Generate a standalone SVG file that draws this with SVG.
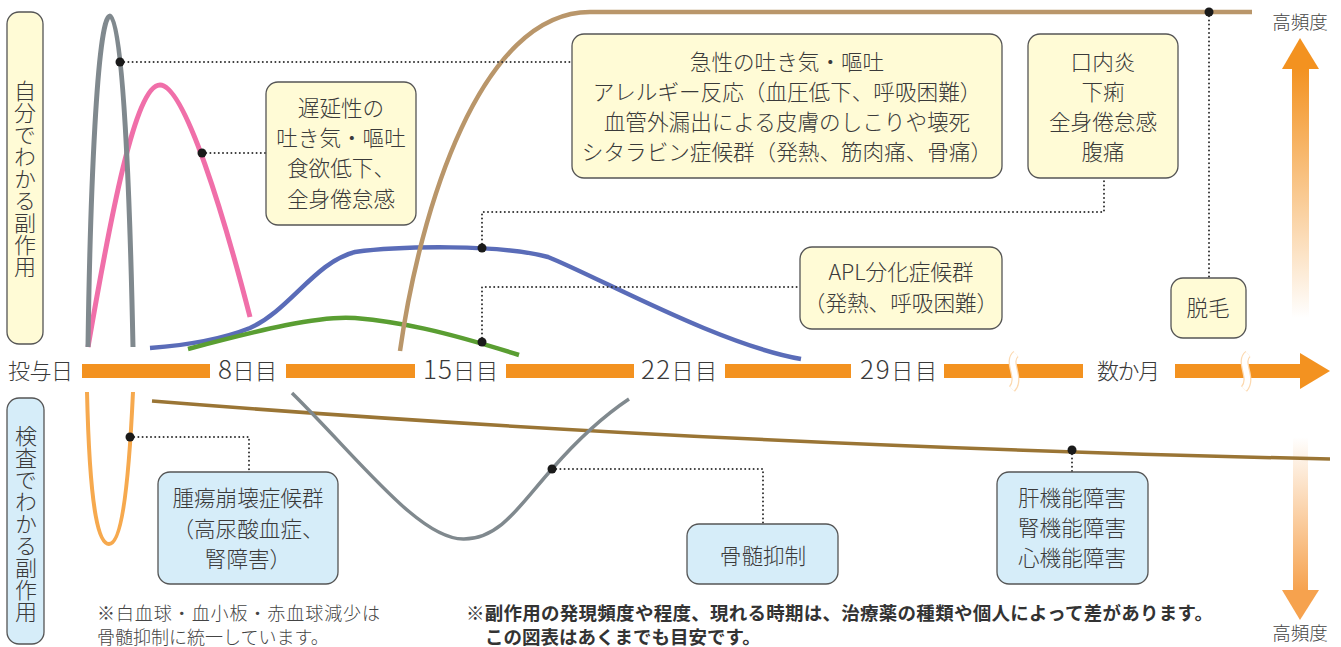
<svg xmlns="http://www.w3.org/2000/svg" width="1341" height="647" viewBox="0 0 1341 647">
<style>
text{font-family:"Noto Sans CJK JP","Noto Sans",sans-serif;fill:#3a3a3a;}
.box{font-size:21.6px;text-anchor:middle;font-weight:300;}
.cream{fill:#fffbd6;stroke:#555;stroke-width:1.3;}
.blue{fill:#d6edf9;stroke:#555;stroke-width:1.3;}
.ax{font-size:22px;font-weight:300;}
.num{font-size:26px;}
.vt{font-size:22px;font-weight:300;}
.curve{fill:none;stroke-linecap:butt;}
.dot{fill:none;stroke:#333;stroke-width:2;stroke-dasharray:0 4.2;stroke-linecap:round;}
.pt{fill:#1a1a1a;}
.bar{fill:#f39220;}
.brk1{fill:none;stroke:#fcd9b0;stroke-width:8;}
.brk2{fill:none;stroke:#fff;stroke-width:5.5;}
.note{font-size:18px;fill:#444;font-weight:300;}
.bold{font-size:18.5px;font-weight:700;fill:#333;}
.freq{font-size:18.5px;text-anchor:middle;fill:#444;font-weight:300;}
</style>
<defs>
<linearGradient id="gUp" x1="0" y1="0" x2="0" y2="1">
<stop offset="0" stop-color="#f39220"/>
<stop offset="1" stop-color="#f39220" stop-opacity="0"/>
</linearGradient>
<linearGradient id="gDown" x1="0" y1="0" x2="0" y2="1">
<stop offset="0" stop-color="#f6a24e" stop-opacity="0"/>
<stop offset="1" stop-color="#f6a24e"/>
</linearGradient>
</defs>

<g id="label-self">
<rect class="cream" x="7" y="12" width="36" height="332" rx="12"/>
<text class="vt" x="25" y="178.5" style="writing-mode:vertical-rl" text-anchor="middle">自分でわかる副作用</text>
</g>
<g id="label-test">
<rect class="blue" x="7" y="398" width="37" height="246" rx="12"/>
<text class="vt" x="26" y="523.5" style="writing-mode:vertical-rl" text-anchor="middle">検査でわかる副作用</text>
</g>

<g id="axis">
<text class="ax" x="8" y="379" textLength="65">投与日</text>
<rect class="bar" x="82" y="364" width="128" height="14"/>
<text class="ax" x="218" y="379" textLength="59"><tspan class="num">8</tspan>日目</text>
<rect class="bar" x="286" y="364" width="129" height="14"/>
<text class="ax" x="423" y="379" textLength="75"><tspan class="num">15</tspan>日目</text>
<rect class="bar" x="506" y="364" width="128" height="14"/>
<text class="ax" x="641" y="379" textLength="76"><tspan class="num">22</tspan>日目</text>
<rect class="bar" x="725" y="364" width="126" height="14"/>
<text class="ax" x="860" y="379" textLength="77"><tspan class="num">29</tspan>日目</text>
<rect class="bar" x="944" y="364" width="139" height="14"/>
<text class="ax" x="1097" y="379" textLength="63">数か月</text>
<rect class="bar" x="1175" y="364" width="127" height="14"/>
<polygon class="bar" points="1300,353 1330,371 1300,389"/>
<path class="brk1" d="M1016,354 C1006,362 1022,378 1012,389"/>
<path class="brk2" d="M1016,354 C1006,362 1022,378 1012,389"/>
<path class="brk1" d="M1248,354 C1238,362 1254,378 1244,389"/>
<path class="brk2" d="M1248,354 C1238,362 1254,378 1244,389"/>
</g>

<g id="freq-up">
<text class="freq" x="1300" y="29">高頻度</text>
<rect x="1292" y="68" width="17" height="250" fill="url(#gUp)"/>
<polygon points="1300,38 1319,69 1282,69" fill="#f39220"/>
</g>
<g id="freq-down">
<rect x="1293" y="437" width="15" height="154" fill="url(#gDown)"/>
<polygon points="1282,590 1319,590 1300,620" fill="#f6a24e"/>
<text class="freq" x="1300" y="640">高頻度</text>
</g>

<g id="curves">
<path class="curve" stroke="#f06fa9" stroke-width="5" d="M88,347 C110,220 135,85 160,85 C185,85 225,220 250,317"/>
<path class="curve" stroke="#80898e" stroke-width="5" d="M88,347 C90,200 97,16 110,16 C123,16 130,200 133,347"/>
<path class="curve" stroke="#5a6cb8" stroke-width="4.5" d="M150,348 C190,345 225,338 250,328 C290,310 315,262 355,252 C400,246 500,244 548,257 C600,278 720,345 801,359"/>
<path class="curve" stroke="#5a9e32" stroke-width="4.5" d="M188,349 C260,330 320,315 355,318 C400,322 440,330 519,355"/>
<path class="curve" stroke="#b9966a" stroke-width="4.5" d="M400,351 C420,210 480,12 590,12 L1252,12"/>
<path class="curve" stroke="#f6a94e" stroke-width="4" d="M87,392 C90,520 100,544 109,544 C120,544 128,500 133,392"/>
<path class="curve" stroke="#9a7535" stroke-width="3.5" d="M152,401 Q700,445 1330,459"/>
<path class="curve" stroke="#80898e" stroke-width="3.5" d="M292,393 C360,460 420,540 464,539 C500,539 520,505 552,469 C580,437 605,415 629,399"/>
</g>

<g id="connectors">
<polyline class="dot" points="120,62 572,62"/>
<polyline class="dot" points="202,153 266,153"/>
<polyline class="dot" points="482,248 482,212 1104,212 1104,178"/>
<polyline class="dot" points="482,342 482,287 800,287"/>
<polyline class="dot" points="1209,12 1209,278"/>
<polyline class="dot" points="130,437 249,437 249,472"/>
<polyline class="dot" points="552,469 763,469 763,524"/>
<polyline class="dot" points="1072,450 1072,472"/>
<circle class="pt" cx="120" cy="62" r="4.5"/>
<circle class="pt" cx="202" cy="153" r="4.5"/>
<circle class="pt" cx="482" cy="248" r="4.5"/>
<circle class="pt" cx="482" cy="342" r="4.5"/>
<circle class="pt" cx="1209" cy="12" r="4.5"/>
<circle class="pt" cx="130" cy="437" r="4.5"/>
<circle class="pt" cx="552" cy="469" r="4.5"/>
<circle class="pt" cx="1072" cy="450" r="4.5"/>
</g>

<g id="node-delayed">
<rect class="cream" x="266" y="82" width="150" height="143" rx="12"/>
<text class="box" x="341" y="116">遅延性の</text>
<text class="box" x="341" y="146">吐き気・嘔吐</text>
<text class="box" x="341" y="176">食欲低下、</text>
<text class="box" x="341" y="207">全身倦怠感</text>
</g>
<g id="node-acute">
<rect class="cream" x="572" y="34" width="430" height="144" rx="12"/>
<text class="box" x="787" y="70">急性の吐き気・嘔吐</text>
<text class="box" x="787" y="100">アレルギー反応（血圧低下、呼吸困難）</text>
<text class="box" x="787" y="130">血管外漏出による皮膚のしこりや壊死</text>
<text class="box" x="787" y="160">シタラビン症候群（発熱、筋肉痛、骨痛）</text>
</g>
<g id="node-stomatitis">
<rect class="cream" x="1028" y="34" width="150" height="144" rx="12"/>
<text class="box" x="1103" y="70">口内炎</text>
<text class="box" x="1103" y="100">下痢</text>
<text class="box" x="1103" y="130">全身倦怠感</text>
<text class="box" x="1103" y="160">腹痛</text>
</g>
<g id="node-apl">
<rect class="cream" x="800" y="247" width="202" height="82" rx="12"/>
<text class="box" x="901" y="280">APL分化症候群</text>
<text class="box" x="901" y="311">（発熱、呼吸困難）</text>
</g>
<g id="node-alopecia">
<rect class="cream" x="1171" y="278" width="75" height="60" rx="12"/>
<text class="box" x="1208" y="316">脱毛</text>
</g>
<g id="node-tls">
<rect class="blue" x="158" y="472" width="180" height="112" rx="12"/>
<text class="box" x="248" y="506">腫瘍崩壊症候群</text>
<text class="box" x="248" y="537">（高尿酸血症、</text>
<text class="box" x="248" y="567">腎障害）</text>
</g>
<g id="node-marrow">
<rect class="blue" x="687" y="524" width="151" height="60" rx="12"/>
<text class="box" x="763" y="564">骨髄抑制</text>
</g>
<g id="node-organ">
<rect class="blue" x="997" y="472" width="151" height="112" rx="12"/>
<text class="box" x="1072" y="506">肝機能障害</text>
<text class="box" x="1072" y="536">腎機能障害</text>
<text class="box" x="1072" y="566">心機能障害</text>
</g>

<g id="notes">
<text class="note" x="97" y="620" textLength="283">※白血球・血小板・赤血球減少は</text>
<text class="note" x="97" y="644">骨髄抑制に統一しています。</text>
<text class="bold" x="466" y="620" textLength="747">※副作用の発現頻度や程度、現れる時期は、治療薬の種類や個人によって差があります。</text>
<text class="bold" x="485" y="644">この図表はあくまでも目安です。</text>
</g>
</svg>
